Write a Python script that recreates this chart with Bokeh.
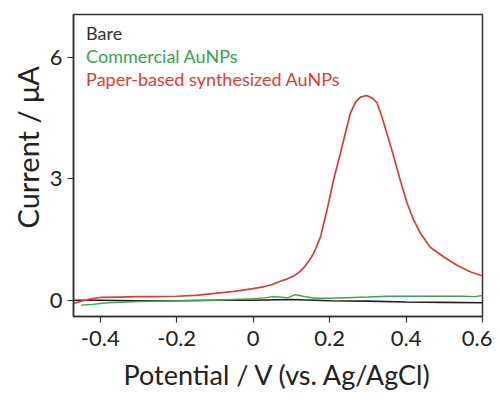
from bokeh.plotting import figure
from bokeh.models import Label, FixedTicker, Range1d, Title
from bokeh.embed import file_html
from bokeh.resources import INLINE

# ---- data ----
red_v = [-0.47, -0.45, -0.42, -0.4, -0.35, -0.3, -0.25, -0.2, -0.15, -0.1, -0.05, 0.0, 0.03, 0.05,
         0.071, 0.09, 0.106, 0.12, 0.132, 0.145, 0.158, 0.176, 0.193, 0.21, 0.228, 0.241, 0.254,
         0.268, 0.281, 0.296, 0.311, 0.324, 0.337, 0.35, 0.368, 0.385, 0.403, 0.42, 0.438,
         0.463, 0.499, 0.534, 0.569, 0.595, 0.6]
red_i = [-0.08, -0.02, 0.04, 0.07, 0.08, 0.09, 0.09, 0.1, 0.12, 0.17, 0.22, 0.29, 0.34, 0.39,
         0.47, 0.53, 0.6, 0.69, 0.8, 0.96, 1.15, 1.56, 2.22, 2.96, 3.62, 4.12, 4.61,
         4.9, 5.02, 5.06, 5.0, 4.88, 4.53, 4.12, 3.54, 2.96, 2.39, 1.98, 1.65,
         1.31, 1.07, 0.86, 0.70, 0.62, 0.61]

green_v = [-0.45, -0.42, -0.38, -0.3, -0.2, -0.1, -0.05, 0.0, 0.03, 0.05, 0.07, 0.09, 0.11, 0.13,
           0.16, 0.2, 0.3, 0.35, 0.4, 0.5, 0.55, 0.58, 0.6]
green_i = [-0.12, -0.1, -0.06, -0.03, -0.01, 0.0, 0.02, 0.04, 0.06, 0.09, 0.08, 0.06, 0.14, 0.1,
           0.05, 0.05, 0.08, 0.1, 0.1, 0.1, 0.1, 0.09, 0.12]

bare_v = [-0.47, -0.4, -0.3, -0.2, -0.1, 0.0, 0.1, 0.2, 0.3, 0.4, 0.5, 0.6]
bare_i = [0.0, 0.0, -0.01, -0.01, 0.0, 0.0, 0.02, -0.01, -0.02, -0.04, -0.05, -0.06]

x_ticks = [-0.4, -0.2, 0.0, 0.2, 0.4, 0.6]
x_tick_labels = ["-0.4", "-0.2", "0", "0.2", "0.4", "0.6"]
y_ticks = [0, 3, 6]

series_names = ["Bare", "Commercial AuNPs", "Paper-based synthesized AuNPs"]
series_colors = ["#2a1c1c", "#3aa352", "#d8403a"]
legend_text_colors = ["#333333", "#3aa352", "#d8403a"]

FONT = "Lato"

p = figure(width=492, height=396, output_backend="svg", toolbar_location=None,
           x_range=Range1d(-0.47, 0.6), y_range=Range1d(-0.4, 7.06),
           min_border_left=73, min_border_right=10, min_border_top=14, min_border_bottom=80)

p.line(bare_v, bare_i, color=series_colors[0], line_width=1.6)
p.line(green_v, green_i, color=series_colors[1], line_width=1.4)
p.line(red_v, red_i, color=series_colors[2], line_width=1.7)

p.xgrid.visible = False
p.ygrid.visible = False
p.outline_line_color = "#333333"
p.outline_line_width = 1.5

p.xaxis.ticker = FixedTicker(ticks=x_ticks)
p.xaxis.major_label_overrides = {t: l for t, l in zip(x_ticks, x_tick_labels)}
p.yaxis.ticker = FixedTicker(ticks=y_ticks)
p.yaxis.major_label_overrides = {t: str(t) for t in y_ticks}

for ax in (p.xaxis, p.yaxis):
    ax.axis_line_color = "#333333"
    ax.axis_line_width = 1.5
    ax.major_tick_line_color = "#333333"
    ax.major_tick_line_width = 1.2
    ax.major_tick_in = 0
    ax.major_tick_out = 6
    ax.minor_tick_line_color = None
    ax.major_label_text_font = FONT
    ax.major_label_text_font_size = "22px"
    ax.major_label_text_color = "#222222"
    ax.axis_label_text_font = FONT
    ax.axis_label_text_font_style = "normal"
    ax.axis_label_text_color = "#222222"

p.xaxis.axis_label = "Potential / V (vs. Ag/AgCl)"
p.xaxis.axis_label_text_font_size = "27px"
p.xaxis.major_label_standoff = 8
p.yaxis.major_label_standoff = 5
p.xaxis.axis_label_standoff = 9

# y axis title as a side title, started a fixed distance up from the frame bottom
ytitle = Title(text="Current / μA", align="left", offset=88, standoff=4,
               text_font=FONT, text_font_size="29px", text_font_style="normal",
               text_color="#222222")
p.add_layout(ytitle, "left")

legend_y = [6.60, 6.03, 5.47]
for name, col, yy in zip(series_names, legend_text_colors, legend_y):
    p.add_layout(Label(x=-0.437, y=yy, text=name, text_color=col,
                       text_font=FONT, text_font_size="18px", text_baseline="alphabetic"))

open("out.html", "w").write(file_html(p, INLINE))
